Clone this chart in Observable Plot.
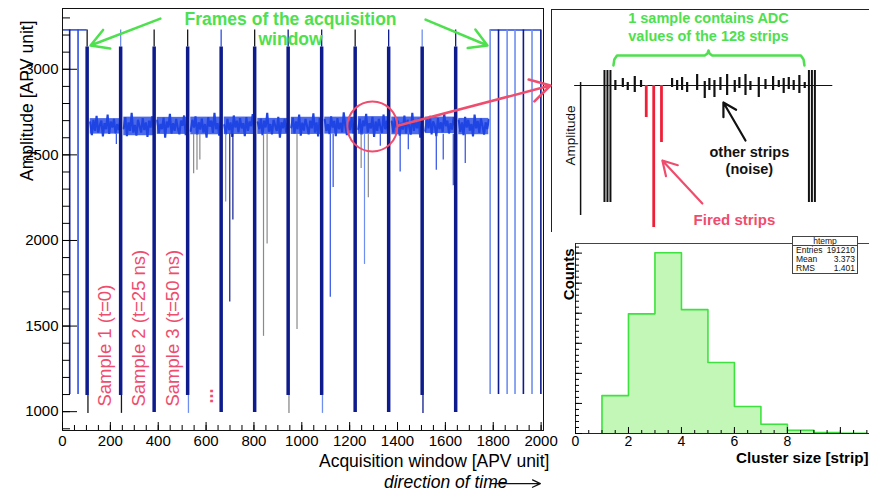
<!DOCTYPE html>
<html><head><meta charset="utf-8">
<script src="https://cdn.jsdelivr.net/npm/d3@7"></script>
<script src="https://cdn.jsdelivr.net/npm/@observablehq/plot@0.6"></script>
<style>
body{margin:0;background:#fff;}
#wrap{position:relative;width:869px;height:496px;overflow:hidden;background:#fff;font-family:"Liberation Sans",Arial,sans-serif;}
#wrap > *{position:absolute;}
#stats{box-sizing:border-box;border:1px solid #444;background:#fff;font-size:8.5px;color:#111;}
#stats .t{text-align:center;border-bottom:1px solid #444;height:8px;line-height:8px;}
#stats .r{display:flex;justify-content:space-between;padding:0 2px 0 3px;height:9.2px;line-height:9.2px;}
</style></head><body><div id="wrap"></div>
<script>
// ================= DATA =================
// --- main panel: APV raw data frame ---
const xTicks = [0,200,400,600,800,1000,1200,1400,1600,1800,2000];
const yTicks = [1000,1500,2000,2500,3000];
const headerX = [103,243,383,523,663,803,943,1083,1223,1363,1503,1643];
const headerLow = [1095,1095,995,1095,995,995,1095,1095,995,995,1095,995];
const headerTopTone = ["black","light","black","black","blue","black","navy","navy","black","navy","light","navy"];
const headerTailTone = ["black","black","navy","light","navy","navy","grey","light","navy","navy","navy","navy"];
const syncX = [30,65,1787,1822,1858,1891,1926,1962,1999];
const syncTone = ["navy","blue","light","navy","light","light","navy","light","navy"];
const idleStart = [0,1787];
const idleEnd = [103,2000];
const levelHigh = 3230, levelHeader = 3130, levelSync = 1100, levelFloor = 990, bandBottom = 2620;
const noiseFrames = [
 [2690,2615,2705,2640,2728,2630,2672,2700,2608,2685,2650,2735,2622,2695,2660,2710,2625,2680,2645,2700],
 [2655,2720,2610,2690,2640,2745,2630,2675,2612,2705,2668,2630,2715,2645,2690,2605,2700,2660,2725,2635],
 [2700,2628,2680,2650,2718,2600,2695,2660,2740,2625,2685,2640,2710,2655,2620,2700,2670,2730,2615,2690],
 [2640,2705,2660,2725,2618,2690,2648,2712,2630,2680,2600,2720,2665,2700,2628,2745,2650,2685,2612,2698],
 [2675,2620,2710,2645,2690,2605,2730,2660,2700,2632,2715,2655,2685,2610,2720,2640,2695,2668,2738,2628],
 [2690,2650,2712,2615,2700,2660,2745,2635,2680,2620,2705,2672,2640,2722,2600,2690,2655,2710,2630,2685],
 [2660,2718,2625,2695,2650,2735,2612,2688,2642,2710,2668,2620,2700,2655,2742,2630,2690,2608,2715,2664],
 [2705,2640,2680,2622,2725,2660,2698,2610,2715,2650,2688,2632,2748,2670,2615,2700,2645,2720,2625,2690],
 [2650,2712,2618,2700,2668,2740,2630,2685,2655,2722,2605,2695,2640,2710,2662,2628,2735,2650,2700,2620],
 [2695,2630,2720,2660,2700,2612,2688,2648,2730,2625,2705,2665,2618,2745,2640,2690,2655,2712,2600,2680],
 [2640,2708,2655,2728,2620,2695,2672,2610,2715,2650,2690,2632,2740,2668,2700,2625,2685,2648,2720,2660],
 [2700,2635,2690,2615,2722,2660,2705,2642,2680,2608,2735,2655,2698,2628,2712,2670,2618,2690,2650,2705]
];
const spikeX    = [225,548,562,574,682,699,712,840,855,980,1119,1131,1248,1262,1278,1328,1411,1445,1562,1591,1633,1683];
const spikeLow  = [2560,2390,2410,2470,2225,1640,2120,1440,1980,1480,1668,2310,2420,1860,2250,2550,2400,2530,2410,2470,2320,2450];
const spikeTone = ["blue","grey","grey","grey","light","navy","navy","grey","grey","grey","blue","blue","grey","light","grey","blue","blue","blue","blue","blue","blue","blue"];
const sampleLabels = ["Sample 1 (t=0)","Sample 2 (t=25 ns)","Sample 3 (t=50 ns)"];
const sampleLabelX = [180,318,460];

// --- schematic panel: one sample = 128 strips ---
const stripNoiseX  = [1.3,6.3,9.6,14.3,18.5,39.3,42.7,46,49.4,56.1,61.2,64.3,67.7,71.7,76.2,81.3,84.4,88.5,91.8,97.4,101.9,107,110.8,114.1,117.5,120.8,124.6,128.2];
const stripNoiseHi = [5,7,3,9,5,7,5,8,3,11,4,7,5,8,11,5,8,11,4,8,6,9,5,7,8,5,10,3];
const stripNoiseLo = [-5,-2,-5,-7,-2,-2,-5,-5,-7,-5,-13,-5,-12,-5,-10,-7,-3,-10,-5,-12,-4,-5,-2,-8,-4,-5,-8,-3];
const firedX   = [22,27,32.2];
const firedLow = [-32,-142,-57];
const frameMarkX = [-6,-4,-2,131,133,135];

// --- histogram panel: cluster size ---
const binLow = [1,2,3,4,5,6,7,8,9,10];
const counts = [12600,39800,60100,41200,23600,9000,3100,1100,350,100];
const histXTicks = [0,2,4,6,8];
const statsLabels = ["Entries","Mean","RMS"];
const statsValues = ["191210","3.373","1.401"];

// ================= STYLE =================
const tone = {navy:"#0d1b8c", blue:"#2d4fe6", light:"#6f8ff0", grey:"#8a8a8a", black:"#1a1a1a"};
const PINK = "#ef4d6d", GREEN = "#4ee04e", RED = "#ee2038", NOISE = "#1f44e4";
const FONT = "Liberation Sans, Arial, sans-serif";
const NARROW = "Liberation Sans Narrow, Arial Narrow, Liberation Sans, sans-serif";
const wrap = document.getElementById("wrap");
function place(el, left, top){ el.style.left = left+"px"; el.style.top = top+"px"; wrap.appendChild(el); }

// ================= SCHEMATIC =================
const noiseBars = stripNoiseX.map((x,i)=>({x, hi: stripNoiseHi[i], lo: stripNoiseLo[i]}));
const fired = firedX.map((x,i)=>({x, lo: firedLow[i]}));
const brace = [[0,20],[0.6,26],[2.4,30],[61.2,30],[63,32],[63.7,35],[64.4,32],[66.2,30],[125.6,30],[127.4,26],[128,20]].map(([x,y])=>({x,y}));
const sch = Plot.plot({
  width: 318, height: 223, margin: 0,
  x: {domain: [-41.5, 171.6], axis: null},
  y: {domain: [-147, 76], axis: null},
  style: {background: "#fff", fontFamily: FONT},
  marks: [
    Plot.frame({stroke: "#222"}),
    Plot.ruleY([0], {x1: -26, x2: 147, stroke: "#111", strokeWidth: 1.2}),
    Plot.ruleX([-22], {y1: 3, y2: -130, stroke: "#111", strokeWidth: 1.5}),
    Plot.ruleX(frameMarkX, {y1: 15, y2: -117, stroke: "#111", strokeWidth: 2}),
    Plot.ruleX(noiseBars, {x: "x", y1: "lo", y2: "hi", stroke: "#111", strokeWidth: 2.2}),
    Plot.ruleX(fired, {x: "x", y1: 0, y2: "lo", stroke: RED, strokeWidth: 2.8}),
    Plot.line(brace, {x: "x", y: "y", stroke: GREEN, strokeWidth: 2.5}),
    Plot.text(["1 sample contains ADC\nvalues of the 128 strips"], {x: 63.7, y: 59, fill: GREEN, fontWeight: "bold", fontSize: 14.5, lineHeight: 1.24}),
    Plot.text(["Amplitude"], {x: -28.8, y: -50, rotate: -90, fill: "#111", fontSize: 13.5}),
    Plot.text(["other strips\n(noise)"], {x: 91.1, y: -74.5, fill: "#111", fontWeight: "bold", fontSize: 14.5, lineHeight: 1.17}),
    Plot.arrow([{x1: 88.5, y1: -55, x2: 73.7, y2: -17}], {x1: "x1", y1: "y1", x2: "x2", y2: "y2", stroke: "#111", strokeWidth: 2.2, headLength: 11}),
    Plot.text(["Fired strips"], {x: 81.1, y: -135, fill: PINK, fontWeight: "bold", fontSize: 15}),
    Plot.arrow([{x1: 59.6, y1: -118, x2: 32.8, y2: -75}], {x1: "x1", y1: "y1", x2: "x2", y2: "y2", stroke: PINK, strokeWidth: 2.2, headLength: 11})
  ]
});
place(sch, 551, 9);

// ================= HISTOGRAM =================
const steps = [{x: binLow[0], y: 0}, ...binLow.map((x,i)=>({x, y: counts[i]})),
  {x: binLow[binLow.length-1]+1, y: counts[counts.length-1]}, {x: binLow[binLow.length-1]+1, y: 0}];
const hist = Plot.plot({
  width: 324, height: 261, marginLeft: 30, marginRight: 0, marginTop: 8, marginBottom: 63,
  x: {domain: [0, 11.1], axis: null},
  y: {domain: [0, 63200], axis: null},
  style: {background: "none", fontFamily: FONT, overflow: "visible"},
  marks: [
    Plot.areaY(steps, {x: "x", y: "y", curve: "step-after", fill: "#c3f7b8"}),
    Plot.lineY(steps, {x: "x", y: "y", curve: "step-after", stroke: "#3ee23e", strokeWidth: 1.6}),
    Plot.ruleY([0], {stroke: "#222"}),
    Plot.ruleY([63200], {stroke: "#444"}),
    Plot.ruleX([0], {stroke: "#222"}),
    Plot.axisX(d3.range(0, 11, 2), {tickSize: -6, text: null, label: null}),
    Plot.axisX(d3.range(0, 11.01, 0.5), {tickSize: -3, text: null, label: null}),
    Plot.axisX(histXTicks, {tickSize: 0, tickPadding: 3, fontSize: 14, tickFormat: d3.format("d"), label: null}),
    Plot.axisY(d3.range(0, 60001, 10000), {tickSize: -7, text: null, label: null}),
    Plot.axisY(d3.range(0, 63001, 2000), {tickSize: -4, text: null, label: null}),
    Plot.text(["Counts"], {frameAnchor: "top-left", dx: -12, dy: 5, rotate: -90, textAnchor: "end", fontWeight: "bold", fontSize: 15}),
    Plot.text(["Cluster size [strip]"], {frameAnchor: "bottom-right", dx: -1, dy: 29, textAnchor: "end", fontWeight: "bold", fontSize: 15.2})
  ]
});
place(hist, 545, 235);

const stats = document.createElement("div");
stats.id = "stats";
stats.style.width = "66px"; stats.style.height = "38px";
stats.innerHTML = `<div class="t">htemp</div>` + statsLabels.map((l,i)=>`<div class="r"><span>${l}</span><span>${statsValues[i]}</span></div>`).join("");
place(stats, 792, 236);

// ================= MAIN PANEL =================
const headers = headerX.map((x,i)=>({x, low: headerLow[i], top: tone[headerTopTone[i]], tail: tone[headerTailTone[i]]}));
const tails = headers.filter(d => d.low > levelFloor + 50);
const syncs = syncX.map((x,i)=>({x, c: tone[syncTone[i]]}));
const noise = noiseFrames.flatMap((vals,i)=>vals.map((y,j)=>({x: headerX[i] + 13 + j*6.6, y, f: i})));
// dense core of each frame's noise band (inter-decile range of the frame's own values)
const core = noiseFrames.flatMap((vals,i)=>{
  const s = vals.slice().sort(d3.ascending);
  const lo = d3.quantile(s, 0.1), hi = d3.quantile(s, 0.9);
  return [{x: headerX[i] + 13, lo, hi, f: i}, {x: headerX[i] + 13 + 19*6.6, lo, hi, f: i}];
});
const spikes = spikeX.map((x,i)=>({x, low: spikeLow[i], c: tone[spikeTone[i]]}));
const idle = idleStart.map((s,i)=>({x1: s, x2: idleEnd[i]}));
const samples = sampleLabels.map((t,i)=>({t, x: sampleLabelX[i]}));

const main = Plot.plot({
  width: 560, height: 496, marginLeft: 62, marginRight: 17, marginTop: 8, marginBottom: 66,
  x: {domain: [0, 2010], axis: null},
  y: {domain: [890, 3355], axis: null},
  color: {type: "identity"},
  style: {background: "none", fontFamily: FONT, overflow: "visible"},
  marks: [
    Plot.areaY(core, {x: "x", y1: "lo", y2: "hi", z: "f", fill: NOISE, fillOpacity: 0.8}),
    Plot.line(noise, {x: "x", y: "y", z: "f", stroke: NOISE, strokeWidth: 2.1, strokeLinejoin: "miter"}),
    Plot.ruleX(spikes, {x: "x", y1: bandBottom, y2: "low", stroke: "c", strokeWidth: 1.2}),
    Plot.ruleY(idle, {x1: "x1", x2: "x2", y: levelHigh, stroke: "#2848d8", strokeWidth: 1.5}),
    Plot.ruleX(syncs, {x: "x", y1: levelHigh, y2: levelSync, stroke: "c", strokeWidth: 1.6}),
    Plot.ruleX(headers, {x: "x", y1: levelHigh, y2: levelHeader, stroke: "top", strokeWidth: 1.3}),
    Plot.ruleX(headers, {x: "x", y1: levelHeader, y2: "low", stroke: tone.navy, strokeWidth: 3.5}),
    Plot.ruleX(tails, {x: "x", dx: 0.8, y1: "low", y2: levelFloor, stroke: "tail", strokeWidth: 1.3}),
    Plot.frame({stroke: "#111"}),
    Plot.axisX(xTicks, {tickSize: -8, text: null, label: null}),
    Plot.axisX(d3.range(0, 2001, 50), {tickSize: -5, text: null, label: null}),
    Plot.axisX(xTicks, {tickSize: 0, tickPadding: 5, fontSize: 15, fontFamily: NARROW, tickFormat: d3.format("d"), label: null}),
    Plot.axisY(yTicks, {tickSize: -15, text: null, label: null}),
    Plot.axisY(d3.range(900, 3301, 100), {tickSize: -8, text: null, label: null}),
    Plot.axisY(yTicks, {tickSize: 0, tickPadding: 4, fontSize: 15, fontFamily: NARROW, tickFormat: d3.format("d"), label: null}),
    Plot.text(["Amplitude [APV unit]"], {frameAnchor: "top-left", dx: -42, dy: 12, rotate: -90, textAnchor: "end", fontSize: 17.5}),
    Plot.text(["Acquisition window [APV unit]"], {frameAnchor: "bottom-right", dx: 6, dy: 36, textAnchor: "end", fontSize: 17.5}),
    Plot.text(["direction of time"], {frameAnchor: "bottom-right", dx: -36, dy: 57, textAnchor: "end", fontSize: 17.5, fontStyle: "italic"}),
    Plot.arrow([{x1: 1790, y1: 580, x2: 1997, y2: 580}], {x1: "x1", y1: "y1", x2: "x2", y2: "y2", stroke: "#111", strokeWidth: 1.3, headLength: 10, headAngle: 50}),
    // annotations
    Plot.text(["Frames of the acquisition\nwindow"], {x: 953, y: 3238, fill: GREEN, fontWeight: "bold", fontSize: 17.5, lineHeight: 1.15}),
    Plot.arrow([{x1: 409, y1: 3296, x2: 117, y2: 3139}, {x1: 1517, y1: 3290, x2: 1776, y2: 3139}], {x1: "x1", y1: "y1", x2: "x2", y2: "y2", stroke: GREEN, strokeWidth: 2.5, headLength: 12}),
    Plot.text(samples, {x: "x", y: 1030, text: "t", rotate: -90, textAnchor: "start", fill: PINK, fontSize: 18.5}),
    Plot.text(["..."], {x: 605, y: 1047, rotate: -90, textAnchor: "start", fill: PINK, fontWeight: "bold", fontSize: 18}),
    Plot.dot([{x: 1295, y: 2666}], {x: "x", y: "y", r: 25, stroke: PINK, strokeWidth: 2, fill: "none"}),
    Plot.arrow([{x1: 1404, y1: 2671, x2: 2039, y2: 2905}], {x1: "x1", y1: "y1", x2: "x2", y2: "y2", stroke: PINK, strokeWidth: 2.6, headLength: 13})
  ]
});
place(main, 0, 0);
</script></body></html>
